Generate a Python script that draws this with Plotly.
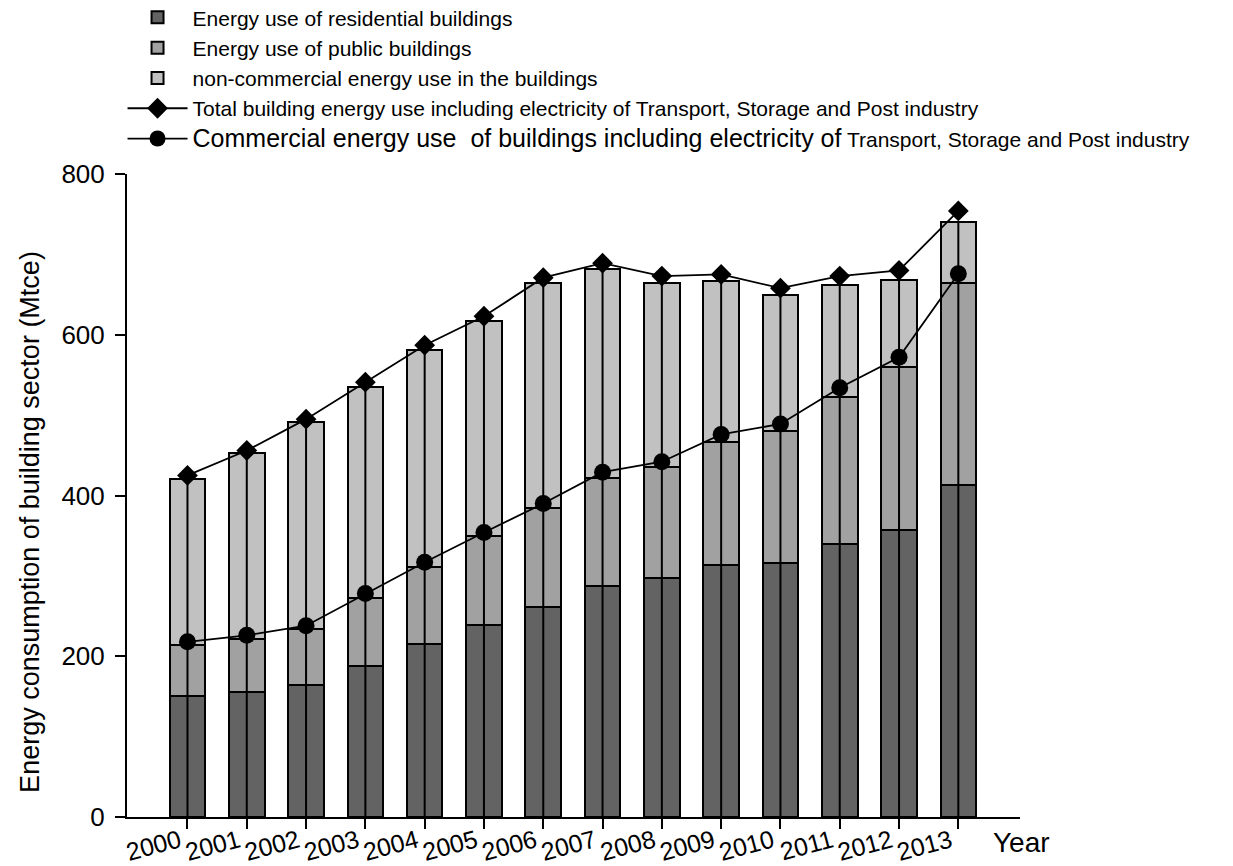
import plotly.graph_objects as go

# ── Data ──────────────────────────────────────────────────────────────────────
years = list(range(2000, 2014))
residential = [150, 155, 164, 188, 215, 239, 261, 288, 297, 314, 316, 340, 357, 413]
public = [64, 67, 70, 84, 96, 110, 124, 134, 138, 153, 164, 183, 203, 251]
non_commercial = [206, 231, 258, 263, 270, 268, 279, 260, 230, 200, 169, 139, 108, 76]
total_with_tsp = [425, 456, 495, 541, 587, 623, 671, 689, 673, 675, 658, 673, 680, 754]
commercial_with_tsp = [218, 226, 238, 278, 317, 354, 390, 429, 442, 476, 489, 534, 572, 676]

FONT = "Arial, Liberation Sans, sans-serif"
EDGE = dict(color="black", width=2)

fig = go.Figure()

# ── Stacked bars ─────────────────────────────────────────────────────────────
for name, vals, col in [
    ("Energy use of residential buildings", residential, "#636363"),
    ("Energy use of public buildings", public, "#a1a1a1"),
    ("non-commercial energy use in the buildings", non_commercial, "#c1c1c1"),
]:
    fig.add_trace(go.Bar(
        x=years, y=vals, name=name, width=0.6,
        marker=dict(color=col, line=EDGE),
        legendgroup=name,
    ))

# centre line running up each bar
bar_tops = [r + p + n for r, p, n in zip(residential, public, non_commercial)]
cx, cy = [], []
for yr, top in zip(years, bar_tops):
    cx += [yr, yr, None]
    cy += [0, top, None]
fig.add_trace(go.Scatter(
    x=cx, y=cy, mode="lines", line=dict(color="black", width=2),
    showlegend=False, hoverinfo="skip",
))

# ── Lines ────────────────────────────────────────────────────────────────────
fig.add_trace(go.Scatter(
    x=years, y=total_with_tsp, mode="lines+markers",
    name="Total building energy use including electricity of Transport, Storage and Post industry",
    line=dict(color="black", width=1.8),
    marker=dict(symbol="diamond", size=16, color="black"),
    legendgroup="total",
))
fig.add_trace(go.Scatter(
    x=years, y=commercial_with_tsp, mode="lines+markers",
    name="<span style='font-size:25px'>Commercial energy use  of buildings including electricity of</span> "
         "Transport, Storage and Post industry",
    line=dict(color="black", width=1.8),
    marker=dict(symbol="circle", size=17, color="black"),
    legendgroup="commercial",
))

# page body adds an 8px offset, so the figure is sized to fit inside the window
fig.update_layout(
    width=1225, height=858,
    barmode="stack",
    plot_bgcolor="white", paper_bgcolor="white",
    font=dict(family=FONT, color="black"),
    margin=dict(l=119, r=213, t=166, b=49, autoexpand=False),
    showlegend=True,
    legend=dict(
        x=-0.005, y=1.275, xanchor="left", yanchor="top",
        font=dict(size=21, family=FONT),
        traceorder="grouped", tracegroupgap=0,
        itemwidth=60, bgcolor="rgba(0,0,0,0)",
    ),
    xaxis=dict(
        range=[1998.98, 2014.04],
        tickvals=years, ticktext=[str(y) for y in years],
        tickangle=-15, tickfont=dict(size=25),
        ticks="outside", ticklen=10, tickwidth=2, tickcolor="black",
        ticklabelstandoff=-12, ticklabelshift=-8,
        showline=True, linecolor="black", linewidth=2,
        showgrid=False, zeroline=False, automargin=False,
    ),
    yaxis=dict(
        range=[0, 800], tickvals=[0, 200, 400, 600, 800],
        tickfont=dict(size=26), ticklabelstandoff=5,
        ticks="outside", ticklen=10, tickwidth=2, tickcolor="black",
        showline=True, linecolor="black", linewidth=2,
        showgrid=False, zeroline=False, automargin=False,
    ),
    annotations=[
        dict(
            text="Energy consumption of building sector (Mtce)",
            xref="paper", yref="paper", x=-0.1086, y=0.459,
            xanchor="center", yanchor="middle", textangle=-90,
            showarrow=False, font=dict(size=27),
        ),
        dict(
            text="Year", xref="paper", yref="paper", x=0.968, y=-0.04,
            xanchor="left", yanchor="middle", showarrow=False,
            font=dict(size=28),
        ),
    ],
)

fig.write_html("out.html")
